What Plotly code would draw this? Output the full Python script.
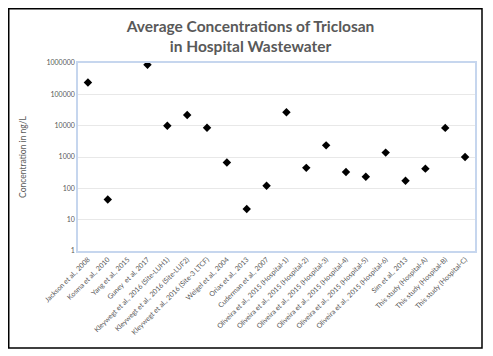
import plotly.graph_objects as go

categories = [
    "Jackson et al., 2008", "Kosma et al., 2010", "Yang et al., 2015", "Guney  et al, 2017",
    "Kleywegt et al., 2016 (Site-LUH1)", "Kleywegt et al., 2016 (Site-LUF2)",
    "Kleywegt et al., 2016 (Site-3 LTCF)", "Weigel et al., 2004", "Orias et al., 2013",
    "Cuderman et al., 2007", "Oliveira et al., 2015 (Hospital-1)",
    "Oliveira et al., 2015 (Hospital-2)", "Oliveira et al., 2015 (Hospital-3)",
    "Oliveira et al., 2015 (Hospital-4)", "Oliveira et al., 2015 (Hospital-5)",
    "Oliveira et al., 2015 (Hospital-6)", "Sim et al., 2013", "This study (Hospital-A)",
    "This study (Hospital-B)", "This study (Hospital-C)",
]
concentrations = [
    240000, 44, None, 880000, 10000, 22000, 8600, 670, 22, 120,
    27000, 450, 2350, 330, 235, 1380, 175, 425, 8500, 1000,
]
y_tick_values = [1, 10, 100, 1000, 10000, 100000, 1000000]
y_tick_labels = ["1", "10", "100", "1000", "10000", "100000", "1000000"]

W, H = 485, 348
L, R, T, B = 70, 18, 55, 105
pw, ph = W - L - R, H - T - B

fig = go.Figure()
fig.add_trace(go.Scatter(
    x=categories, y=concentrations, mode="markers",
    marker=dict(symbol="diamond", size=6.5, color="black"),
    showlegend=False,
))

fig.update_layout(
    width=W, height=H,
    margin=dict(l=L, r=R, t=T, b=B),
    paper_bgcolor="white", plot_bgcolor="white",
    title=dict(
        text="<b>Average Concentrations of Triclosan<br>in Hospital Wastewater</b>",
        x=0.5, xanchor="center", y=1 - 24 / H, yanchor="middle",
        font=dict(family="Lato", size=15.5, color="#595959"),
    ),
    font=dict(family="Lato", color="#595959"),
)
fig.update_xaxes(
    type="category", range=[-0.5, len(categories) - 0.5],
    tickangle=-45, tickfont=dict(size=7, color="#595959"),
    showgrid=False, showline=True, linecolor="#c6d6ee", linewidth=1.5,
    mirror=True, ticks="",
)
fig.update_yaxes(
    type="log", range=[0, 6], tickvals=y_tick_values, ticktext=y_tick_labels,
    tickfont=dict(size=7, color="#595959"),
    showgrid=True, gridcolor="#e8e8e8", gridwidth=1,
    showline=True, linecolor="#c6d6ee", linewidth=1.5, mirror=True,
    zeroline=False, ticks="",
    title=dict(text="Concentration in ng/L", font=dict(size=8.5, color="#595959"), standoff=18),
)
fig.add_shape(
    type="rect", xref="paper", yref="paper",
    x0=(0.75 - L) / pw, x1=(474 - L) / pw,
    y0=(T + ph - 340) / ph, y1=(T + ph - 0.75) / ph,
    line=dict(color="black", width=1.5), fillcolor="rgba(0,0,0,0)", layer="above",
)

fig.write_html("out.html")
